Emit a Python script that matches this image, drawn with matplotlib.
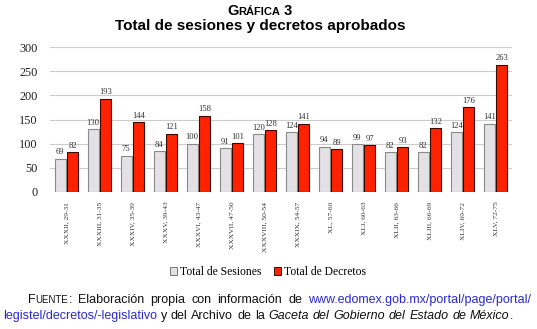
import matplotlib
matplotlib.use("Agg")
import matplotlib.pyplot as plt
import numpy as np
from matplotlib.patches import Patch

categories = ["XXXII, 29-31", "XXXIII, 31-35", "XXXIV, 35-39", "XXXV, 39-43",
              "XXXVI, 43-47", "XXXVII, 47-50", "XXXVIII, 50-54", "XXXIX, 54-57",
              "XL, 57-60", "XLI, 60-63", "XLII, 63-66", "XLIII, 66-69",
              "XLIV, 69-72", "XLV, 72-75"]
sesiones = [69, 130, 75, 84, 100, 91, 120, 124, 94, 99, 82, 82, 124, 141]
decretos = [82, 193, 144, 121, 158, 101, 128, 141, 89, 97, 93, 132, 176, 263]
yticks = [0, 50, 100, 150, 200, 250, 300]

W, H = 537, 329
fig = plt.figure(figsize=(W / 100, H / 100), dpi=100)
serif = "Liberation Serif"
sans = "Liberation Sans"

def fx(px):
    return px / W

def fy(py):
    return 1 - py / H

ax = fig.add_axes([fx(50), fy(192), fx(512) - fx(50), fy(47) - fy(192)])
x = np.arange(len(categories))
bw = 0.33
gray = "#e4e1e6"
red = "#ff2200"
ax.bar(x - 0.19, sesiones, bw, color=gray, edgecolor="#8a8a8a", linewidth=0.8, zorder=3)
ax.bar(x + 0.19, decretos, bw, color=red, edgecolor="#3a0a00", linewidth=0.8, zorder=3)
for i in range(len(x)):
    ax.text(x[i] - 0.19, sesiones[i] + 5, str(sesiones[i]), ha="center", va="bottom",
            fontsize=6.2, family=serif, color="#333333")
    ax.text(x[i] + 0.19, decretos[i] + 5, str(decretos[i]), ha="center", va="bottom",
            fontsize=6.2, family=serif, color="#333333")

ax.set_xlim(-0.5, len(x) - 0.5)
ax.set_ylim(0, 300)
ax.set_yticks(yticks)
ax.set_yticklabels([str(v) for v in yticks], family=serif, fontsize=8.8, color="#222222")
ax.set_xticks(x)
ax.set_xticklabels(categories, rotation=90, family=serif, fontsize=5.4, color="#333333", va="top")
ax.tick_params(axis="both", length=0)
ax.tick_params(axis="y", pad=9)
ax.tick_params(axis="x", pad=7)
ax.grid(axis="y", color="#cccccc", linewidth=0.8, zorder=0)
for s in ["top", "right", "left", "bottom"]:
    ax.spines[s].set_visible(False)

# legend
handles = [Patch(facecolor=gray, edgecolor="#777777", linewidth=0.7, label="Total de Sesiones"),
           Patch(facecolor=red, edgecolor="#3a0a00", linewidth=0.7, label="Total de Decretos")]
fig.legend(handles=handles, loc="center", bbox_to_anchor=(fx(268), fy(272)), ncol=2,
           frameon=False, prop={"family": serif, "size": 8.4}, handlelength=0.6,
           handleheight=0.6, handletextpad=0.25, columnspacing=1.1)

renderer = fig.canvas.get_renderer()

def place_line(pieces, x_px, y_px, center=False):
    texts = [fig.text(0, 0, s, ha="left", va="baseline", **kw) for s, kw in pieces]
    widths = [t.get_window_extent(renderer).width for t in texts]
    total = sum(widths)
    cur = x_px - total / 2 if center else x_px
    for t, w in zip(texts, widths):
        t.set_position((fx(cur), fy(y_px)))
        cur += w
    return texts

place_line([("G", dict(family=sans, fontsize=10.5, weight="bold")),
            ("RÁFICA", dict(family=sans, fontsize=8, weight="bold")),
            (" 3", dict(family=sans, fontsize=10.5, weight="bold"))], 260, 15, center=True)
place_line([("Total de sesiones y decretos aprobados", dict(family=sans, fontsize=11.0, weight="bold"))],
           260, 30, center=True)

# footnote, justified by word spacing
def justified(words, x0, x1, y):
    texts = [fig.text(0, 0, s, ha="left", va="baseline", **kw) for s, kw, _ in words]
    widths = [t.get_window_extent(renderer).width for t in texts]
    ngaps = sum(1 for _, _, g in words[1:] if g)
    total = sum(widths)
    gap = (x1 - x0 - total) / max(ngaps, 1)
    cur = x0
    for i, (t, w) in enumerate(zip(texts, widths)):
        if i > 0 and words[i][2]:
            cur += gap
        t.set_position((fx(cur), fy(y)))
        cur += w

fs = 9.0
base = dict(family=sans, fontsize=fs, color="#111111")
sc_small = dict(family=sans, fontsize=fs * 0.78, color="#111111")
blue = dict(family=sans, fontsize=fs, color="#2a2acc")
ital = dict(family=sans, fontsize=fs, color="#111111", style="italic")

line1 = [("F", base, False), ("UENTE", sc_small, False), (":", base, False),
         ("Elaboración", base, True), ("propia", base, True), ("con", base, True),
         ("información", base, True), ("de", base, True),
         ("www.edomex.gob.mx/portal/page/portal/", blue, True)]
justified(line1, 28, 531, 303)

line2 = [("legistel/decretos/-legislativo", blue, False), ("y", base, True), ("del", base, True),
         ("Archivo", base, True), ("de", base, True), ("la", base, True),
         ("Gaceta", ital, True), ("del", ital, True), ("Gobierno", ital, True), ("del", ital, True),
         ("Estado", ital, True), ("de", ital, True), ("México", ital, True), (".", base, False)]
justified(line2, 3, 513, 319)

fig.savefig("out.png", dpi=100)
